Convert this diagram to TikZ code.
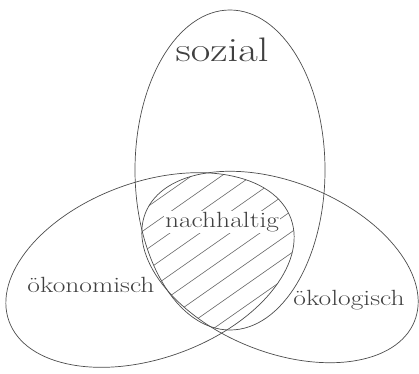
\documentclass[tikz,border=0pt]{standalone}
\begin{document}
\begin{tikzpicture}[x=1pt, y=1pt,
    kreis/.style={draw=black!70, line width=0.7pt},
    schraffur/.style={draw=black!60, line width=0.6pt},
    etikett/.style={font=\fontsize{22}{24}\selectfont, text=black!75, xscale=1.25}]
    \useasboundingbox (0,0) rectangle (419,373);

    % Schnittmenge (schraffiert)
    \begin{scope}
        \clip (230,203) ellipse [x radius=95, y radius=160];
        \clip[rotate around={20:(150,103)}] (150,103) ellipse [x radius=150, y radius=88];
        \clip[rotate around={-22:(280,106)}] (280,106) ellipse [x radius=145, y radius=85];
        \foreach \i in {-8,...,12}
            \draw[schraffur] (\i*30,0) -- ++(300,210);
    \end{scope}

    % Kreise
    \draw[kreis] (230,203) ellipse [x radius=95, y radius=160];
    \draw[kreis, rotate around={20:(150,103)}] (150,103) ellipse [x radius=150, y radius=88];
    \draw[kreis, rotate around={-22:(280,106)}] (280,106) ellipse [x radius=145, y radius=85];

    % Beschriftung
    \node[etikett, font=\fontsize{34}{36}\selectfont] (sozial) at (222,323) {sozial};
    \node[etikett, fill=white, inner sep=1pt] (nachhaltig) at (222,151) {nachhaltig};
    \node[etikett] (oekonomisch) at (91,88) {ökonomisch};
    \node[etikett] (oekologisch) at (349,73) {ökologisch};
\end{tikzpicture}
\end{document}
